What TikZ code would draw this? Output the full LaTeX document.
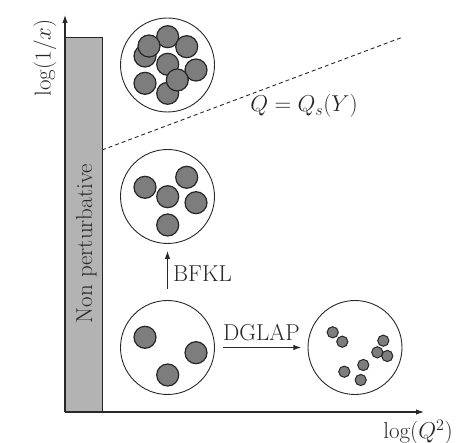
\RequirePackage{fix-cm}
\documentclass[tikz,border=0pt]{standalone}
\usepackage{fontspec}
\usetikzlibrary{arrows.meta}
\definecolor{rectgray}{RGB}{179,179,179}
\definecolor{blobgray}{RGB}{125,125,125}
\definecolor{ink}{RGB}{40,40,40}
\tikzset{
  txt/.style={inner sep=0pt, text=ink, font=\fontsize{23}{28}\selectfont},
  bigcirc/.style={circle, draw=ink, line width=0.9pt, minimum size=94pt, inner sep=0pt},
  blob/.style={draw=black!85, line width=1.2pt, fill=blobgray},
  arr/.style={draw=ink, line width=1pt, -{Latex[length=8pt,width=5.5pt]}},
}
\begin{document}
\begin{tikzpicture}[x=1pt,y=-1pt]
\useasboundingbox (0,0) rectangle (458,443);
% non perturbative region
\node[draw=ink, line width=0.9pt, fill=rectgray, anchor=north west, minimum width=37pt, minimum height=375pt, inner sep=0pt] (np) at (65,37) {};
\node[txt, rotate=90, anchor=base] (nptext) at (92,243.5) {Non perturbative};
% axes
\coordinate (O) at (65,412);
\coordinate (ytip) at (65,15);
\coordinate (xtip) at (424,412);
\draw[arr, line width=1.1pt] (O) -- (ytip);
\draw[arr, line width=1.1pt] (O) -- (xtip);
\node[txt, rotate=90] (ylab) at (45,58) {$\log(1/x)$};
\node[txt] (xlab) at (418,432) {$\log(Q^2)$};
% saturation line
\coordinate (s1) at (102,150);
\coordinate (s2) at (403,37);
\draw[ink, line width=0.9pt, dash pattern=on 4pt off 3pt] (s1) -- (s2);
\node[txt] (qs) at (304,106) {$Q=Q_s(Y)$};
% circles
\node[bigcirc] (c1) at (167.5,65) {};
\node[bigcirc] (c2) at (167.5,196.5) {};
\node[bigcirc] (c3) at (167.5,347.5) {};
\node[bigcirc] (c4) at (355,347.5) {};
% blobs in c1
\foreach \x/\y in {145/56, 167.7/93.3, 167.7/36.7, 167.7/64.3, 186.7/46.7, 149/46, 196/70, 145/83.3, 177.3/80}
  \filldraw[blob] (\x,\y) circle[radius=11pt];
% blobs in c2
\foreach \x/\y in {145/187.3, 167.7/196.7, 186.7/177.3, 196/202.7, 167.7/225}
  \filldraw[blob] (\x,\y) circle[radius=11pt];
% blobs in c3
\foreach \x/\y in {145/337.3, 196/352.7, 167.7/375}
  \filldraw[blob] (\x,\y) circle[radius=11pt];
% small blobs in c4
\foreach \x/\y in {332.7/332.3, 342.3/341.7, 383.3/340.7, 377.3/352.3, 387.3/356, 363.3/365, 344.3/371.7, 360.7/380}
  \filldraw[blob, line width=1pt] (\x,\y) circle[radius=5.6pt];
% evolution arrows
\draw[arr] ([yshift=11pt]c3.north) -- ([yshift=-7pt]c2.south);
\node[txt, anchor=base west] (bfkl) at (173,281.7) {BFKL};
\draw[arr] ([xshift=8.5pt]c3.east) -- ([xshift=-6.3pt]c4.west);
\node[txt, anchor=base west] (dglap) at (223,340.7) {DGLAP};
\end{tikzpicture}
\end{document}
